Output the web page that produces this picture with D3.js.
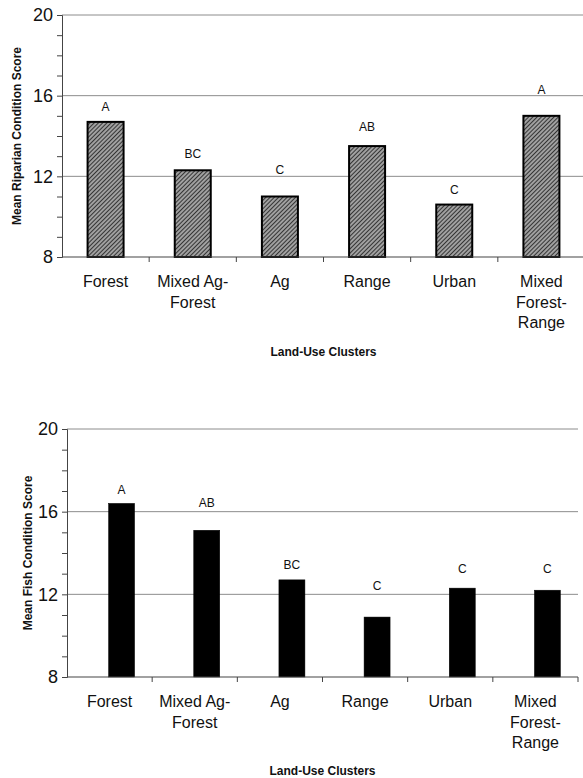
<!DOCTYPE html>
<html>
<head>
<meta charset="utf-8">
<script src="https://cdn.jsdelivr.net/npm/d3@7"></script>
<style>
  html, body { margin: 0; padding: 0; background: #fff; }
  svg { display: block; font-family: "Liberation Sans", Arial, sans-serif; }
</style>
</head>
<body>
<svg id="chart" width="583" height="778"></svg>
<script>
// ---------------- DATA ----------------
const categories = [
  ["Forest"],
  ["Mixed Ag-", "Forest"],
  ["Ag"],
  ["Range"],
  ["Urban"],
  ["Mixed", "Forest-", "Range"]
];
const yTicks = [8, 12, 16, 20];
const gridValues = [12, 16, 20];

const riparianValues  = [14.7, 12.3, 11.0, 13.5, 10.6, 15.0];
const riparianLetters = ["A", "BC", "C", "AB", "C", "A"];
const riparianLetterLevel = [15.45, 13.1, 12.35, 14.45, 11.35, 16.3];

const fishValues  = [16.4, 15.1, 12.7, 10.9, 12.3, 12.2];
const fishLetters = ["A", "AB", "BC", "C", "C", "C"];
const fishLetterLevel = [17.05, 16.45, 13.45, 12.4, 13.25, 13.25];

// ---------------- DRAW ----------------
const svg = d3.select("#chart");
const defs = svg.append("defs");
const pat = defs.append("pattern")
  .attr("id", "hatch").attr("patternUnits", "userSpaceOnUse")
  .attr("width", 3).attr("height", 3)
  .attr("patternTransform", "rotate(45)");
pat.append("rect").attr("width", 3).attr("height", 3).attr("fill", "#a0a0a0");
pat.append("line").attr("x1", 0).attr("y1", 0).attr("x2", 0).attr("y2", 3)
  .attr("stroke", "#111").attr("stroke-width", 1.5);

function drawPanel(cfg) {
  const g = svg.append("g");
  const x = d3.scaleBand().domain(d3.range(categories.length)).range([cfg.x0, cfg.x1]).padding(0);
  const y = d3.scaleLinear().domain([8, 20]).range([cfg.yBottom, cfg.yTop]);

  // gridlines
  g.selectAll("line.grid").data(gridValues).enter().append("line")
    .attr("x1", cfg.x0).attr("x2", cfg.gridEnd)
    .attr("y1", d => y(d)).attr("y2", d => y(d))
    .attr("stroke", "#8c8c8c").attr("stroke-width", 1);

  // y axis
  const yAxis = d3.axisLeft(y)
    .tickValues(d3.range(8, 21))
    .tickSize(5).tickPadding(4)
    .tickFormat(d => yTicks.includes(d) ? d : "");
  const ya = g.append("g").attr("transform", `translate(${cfg.x0},0)`).call(yAxis);
  ya.select(".domain").attr("stroke", "#444").attr("stroke-width", 1);
  ya.selectAll(".tick line").attr("stroke", "#444");
  ya.selectAll(".tick text").attr("font-size", 18).attr("fill", "#111")
    .attr("font-family", "Liberation Sans, Arial, sans-serif");

  // bars
  g.selectAll("rect.bar").data(cfg.values).enter().append("rect")
    .attr("x", (d, i) => x(i) + x.bandwidth() / 2 + cfg.barShift - cfg.barWidth / 2)
    .attr("width", cfg.barWidth)
    .attr("y", d => y(d))
    .attr("height", d => y(8) - y(d))
    .attr("fill", cfg.fill)
    .attr("stroke", "#000").attr("stroke-width", cfg.stroke);

  // x axis line & ticks at band edges
  g.append("line").attr("x1", cfg.x0).attr("x2", cfg.x1)
    .attr("y1", y(8)).attr("y2", y(8)).attr("stroke", "#444").attr("stroke-width", 1.2);
  g.selectAll("line.xt").data(d3.range(1, categories.length + 1)).enter().append("line")
    .attr("x1", d => d < categories.length ? x(d) : cfg.x1)
    .attr("x2", d => d < categories.length ? x(d) : cfg.x1)
    .attr("y1", y(8)).attr("y2", y(8) + 5).attr("stroke", "#444");

  // letters
  g.selectAll("text.letter").data(cfg.letters).enter().append("text")
    .attr("x", (d, i) => x(i) + x.bandwidth() / 2 + cfg.barShift)
    .attr("y", (d, i) => y(cfg.letterLevel[i]) + 4.3)
    .attr("text-anchor", "middle").attr("font-size", 12).attr("fill", "#111")
    .text(d => d);

  // category labels
  const cl = g.selectAll("text.cat").data(categories).enter().append("text")
    .attr("text-anchor", "middle").attr("font-size", 16).attr("fill", "#111");
  cl.each(function(lines, i) {
    const t = d3.select(this);
    lines.forEach((ln, k) => {
      t.append("tspan").attr("x", x(i) + x.bandwidth() / 2)
        .attr("y", y(8) + 30 + k * 20.5).text(ln);
    });
  });

  // x title
  g.append("text").attr("x", (cfg.x0 + cfg.x1) / 2).attr("y", cfg.xTitleY)
    .attr("text-anchor", "middle").attr("font-size", 12).attr("font-weight", "bold")
    .attr("fill", "#111").text("Land-Use Clusters");

  // y title
  const cy = (cfg.yTop + cfg.yBottom) / 2;
  g.append("text")
    .attr("transform", `translate(${cfg.yTitleX + 4.3},${cy}) rotate(-90)`)
    .attr("text-anchor", "middle").attr("font-size", 12).attr("font-weight", "bold")
    .attr("fill", "#111").text(cfg.yTitle);
}

drawPanel({
  x0: 62, x1: 585, gridEnd: 583, yTop: 15, yBottom: 257,
  values: riparianValues, letters: riparianLetters, letterLevel: riparianLetterLevel,
  barWidth: 36, barShift: 0, fill: "url(#hatch)", stroke: 2,
  xTitleY: 356, yTitleX: 17, yTitle: "Mean Riparian Condition Score"
});

drawPanel({
  x0: 67, x1: 578, gridEnd: 578, yTop: 429, yBottom: 677,
  values: fishValues, letters: fishLetters, letterLevel: fishLetterLevel,
  barWidth: 26, barShift: 12, fill: "#000", stroke: 0.5,
  xTitleY: 775, yTitleX: 28, yTitle: "Mean Fish Condition Score"
});
</script>
</body>
</html>
